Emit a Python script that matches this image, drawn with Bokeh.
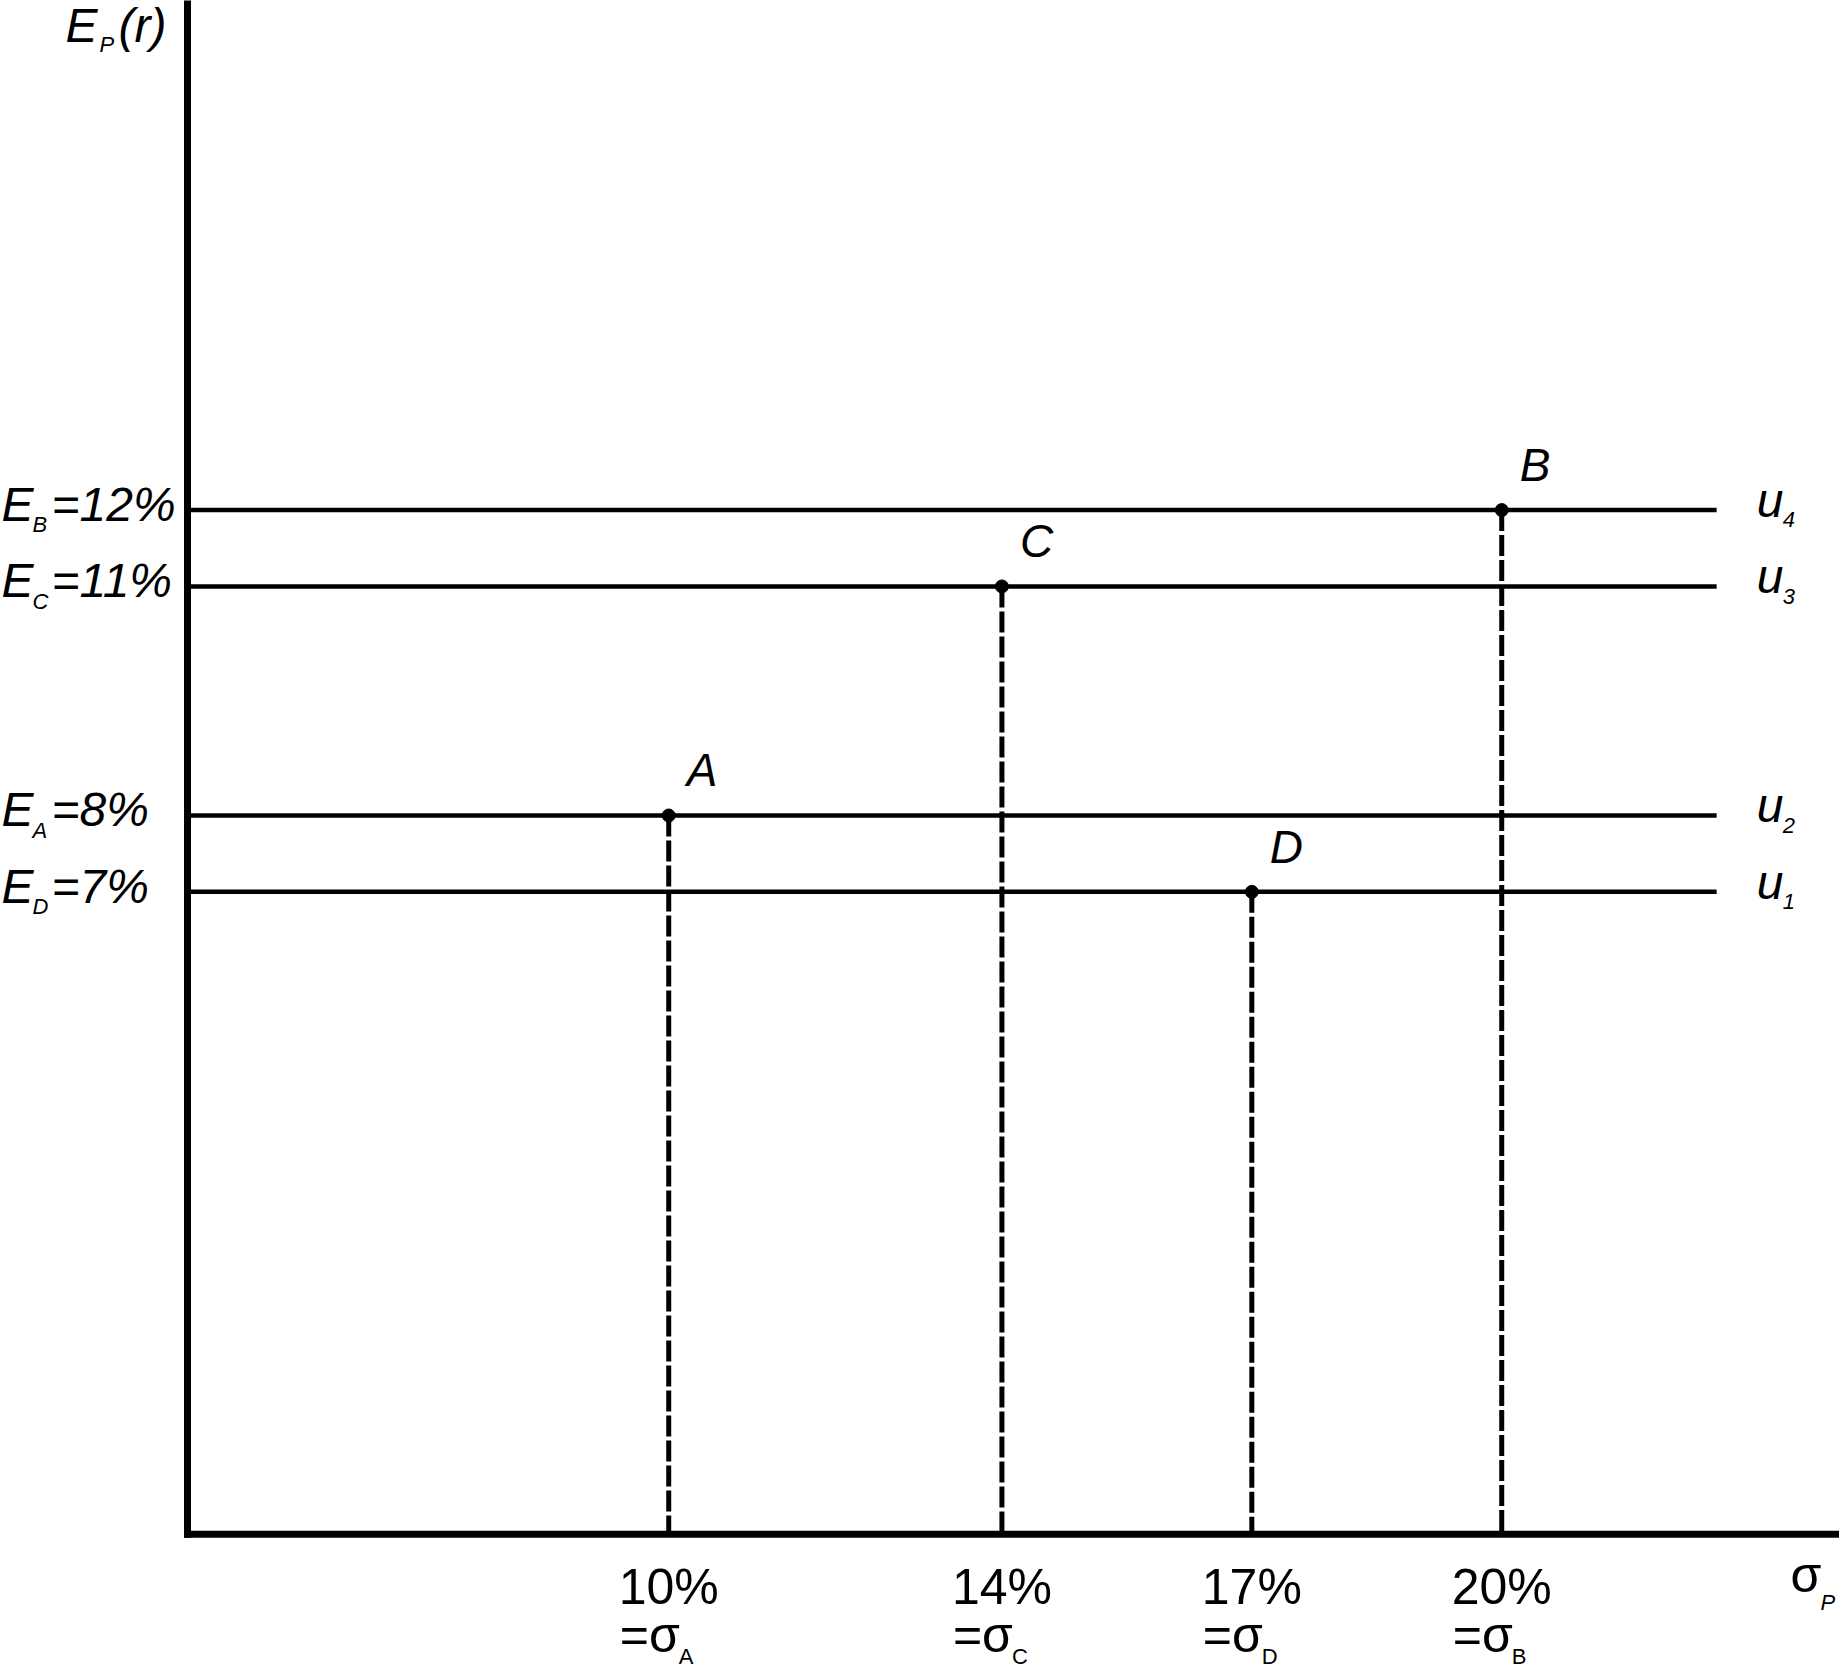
from bokeh.plotting import figure
from bokeh.models import Range1d, ColumnDataSource
from bokeh.core.properties import value
from bokeh.embed import file_html
from bokeh.resources import INLINE

# ---- data ----
points = ["A", "B", "C", "D"]
sigma = [10, 20, 14, 17]            # standard deviation, %
expected = [8, 12, 11, 7]           # expected return, %
sigma_labels = ["10%", "20%", "14%", "17%"]
return_labels = ["=8%", "=12%", "=11%", "=7%"]
curve_index = ["2", "4", "3", "1"]  # indifference curve u_i through each point

# ---- layout ----
W, H = 1839, 1670
X0, X1 = 1.978, 24.055
Y0, Y1 = -3.198, 18.674
AXIS_X = 4.223      # where the vertical axis sits
AXIS_Y = -1.413     # where the horizontal axis sits
LINE_END = 22.58    # right end of the u lines

FONT = value("Liberation Sans")
BLACK = "#000000"


def base(off, size):
    """screen y offset of an alphabetic baseline, corrected for renderer."""
    return off - 0.37 * size


src = ColumnDataSource(dict(pt=points, s=sigma, e=expected, sl=sigma_labels,
                            rl=return_labels, ci=curve_index))

p = figure(width=W, height=H, x_range=Range1d(X0, X1), y_range=Range1d(Y0, Y1),
           output_backend="svg", toolbar_location=None,
           x_axis_location=None, y_axis_location=None, min_border=0)
p.grid.visible = False
p.outline_line_color = None
p.background_fill_color = "white"
p.border_fill_color = "white"


def txt(x, y, text, xo, yo, size, italic=False, align="left", source=None):
    kw = dict(x=x, y=y, text=text, x_offset=xo, y_offset=base(yo, size),
              text_font=FONT, text_font_size=f"{size}px",
              text_font_style="italic" if italic else "normal",
              text_align=align, text_baseline="alphabetic", text_color=BLACK)
    if source is not None:
        kw["source"] = source
    p.text(**kw)


# axes
p.segment(x0=[AXIS_X], y0=[AXIS_Y], x1=[AXIS_X], y1=[Y1 + 1], line_width=7,
          line_color=BLACK, line_cap="square")
p.segment(x0=[AXIS_X], y0=[AXIS_Y], x1=[X1 + 1], y1=[AXIS_Y], line_width=7,
          line_color=BLACK, line_cap="square")

# horizontal indifference lines
p.segment(x0=AXIS_X, y0="e", x1=LINE_END, y1="e", source=src,
          line_width=4.5, line_color=BLACK)
# dashed drop lines
p.segment(x0="s", y0="e", x1="s", y1=AXIS_Y, source=src,
          line_width=5, line_color=BLACK, line_dash="21 4")
# points
p.scatter("s", "e", source=src, size=13, color=BLACK)

# point labels
txt("s", "e", "pt", 18, -28, 46, italic=True, source=src)

# y labels E_X=..%
txt(X0, "e", value("E"), 1, 12, 48, italic=True, source=src)
txt(X0, "e", "pt", 32, 23, 22, italic=True, source=src)
txt(X0, "e", "rl", 51, 12, 48, italic=True, source=src)

# x labels
txt("s", AXIS_Y, "sl", 0, 71, 50, align="center", source=src)
txt("s", AXIS_Y, value("=σ"), -49, 119, 50, source=src)
txt("s", AXIS_Y, "pt", 10, 130, 22, source=src)

# u labels
txt(LINE_END, "e", value("u"), 40, 8, 48, italic=True, source=src)
txt(LINE_END, "e", "ci", 66, 18, 22, italic=True, source=src)

# axis titles
txt([AXIS_X], [Y1], ["E"], -122, 43, 48, italic=True)
txt([AXIS_X], [Y1], ["P"], -88, 52, 22, italic=True)
txt([AXIS_X], [Y1], ["(r)"], -69, 43, 48, italic=True)

txt([X1], [AXIS_Y], ["σ"], -49, 59, 50)
txt([X1], [AXIS_Y], ["P"], -19, 76, 22, italic=True)

open("out.html", "w").write(file_html(p, INLINE))
